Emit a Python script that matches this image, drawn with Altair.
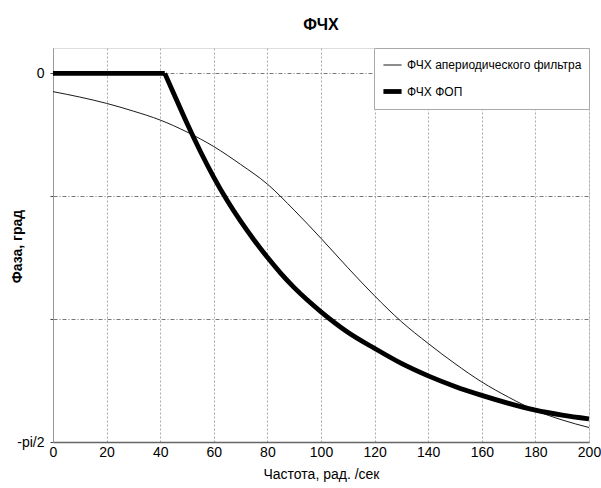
import math
import altair as alt
import pandas as pd

# ---- data ----
series_names = ["ФЧХ апериодического фильтра", "ФЧХ ФОП"]

freq_aper = [0, 10, 20, 30, 40, 50, 60, 70, 80, 90, 100,
             110, 120, 130, 140, 150, 160, 170, 180, 190, 200]
phase_aper = [-0.078, -0.101, -0.128, -0.161, -0.199, -0.250, -0.312, -0.388,
              -0.472, -0.583, -0.703, -0.828, -0.948, -1.058, -1.151, -1.237,
              -1.315, -1.380, -1.436, -1.477, -1.509]

# flat part of the ФОП response, then its falling part
freq_fop_flat = [0, 41.7]
phase_fop_flat = [0.0, 0.0]
freq_fop_fall = [41.7, 45, 50, 55, 60, 65, 70, 75, 80, 85, 90, 95, 100,
                 110, 120, 130, 140, 150, 160, 170, 180, 190, 200]
phase_fop_fall = [0.0, -0.085, -0.213, -0.333, -0.443, -0.542, -0.630, -0.710,
                  -0.784, -0.852, -0.913, -0.967, -1.016, -1.103, -1.172, -1.236,
                  -1.289, -1.334, -1.372, -1.406, -1.435, -1.456, -1.472]

x_ticks = [0, 20, 40, 60, 80, 100, 120, 140, 160, 180, 200]
y_grid = [0, -math.pi / 6, -math.pi / 3, -math.pi / 2]

rows = []
for w, p in zip(freq_aper, phase_aper):
    rows.append({"w": w, "phase": p, "series": series_names[0], "part": "a"})
for w, p in zip(freq_fop_flat, phase_fop_flat):
    rows.append({"w": w, "phase": p, "series": series_names[1], "part": "f1"})
for w, p in zip(freq_fop_fall, phase_fop_fall):
    rows.append({"w": w, "phase": p, "series": series_names[1], "part": "f2"})
df = pd.DataFrame(rows)

FONT = "Liberation Sans, Arial, sans-serif"

y_label_expr = ("datum.value == 0 ? '0' : "
                "(abs(datum.value + PI/2) < 0.001 ? '-pi/2' : '')")

lines = alt.Chart(df).mark_line(
    color="black", clip=True, interpolate="monotone"
).encode(
    x=alt.X(
        "w:Q",
        scale=alt.Scale(domain=[0, 200], nice=False, zero=False),
        axis=alt.Axis(
            values=x_ticks, title="Частота, рад. /сек", grid=True,
            gridColor="#aaaaaa", gridDash=[2, 2], gridWidth=1,
            domainColor="#666666", domainWidth=1.5,
            ticks=False, labelPadding=3, labelFontSize=14,
            titleFontSize=14, titleFontWeight="normal", titlePadding=8,
            labelFlush=False,
        ),
    ),
    y=alt.Y(
        "phase:Q",
        scale=alt.Scale(domain=[-math.pi / 2, 0.108], nice=False, zero=False),
        axis=alt.Axis(
            values=y_grid, labelExpr=y_label_expr, title="Фаза, град",
            grid=True, gridColor="#555555", gridDash=[4, 2, 1, 2], gridWidth=0.8,
            domainColor="#999999", domainWidth=1,
            ticks=True, tickSize=3, tickColor="#444444",
            labelPadding=6, labelFontSize=14,
            titleFontSize=14, titleFontWeight="bold",
            titleX=-36, titleY=198, titleAlign="center", titleBaseline="middle",
        ),
    ),
    detail="part:N",
    strokeWidth=alt.StrokeWidth(
        "series:N",
        scale=alt.Scale(domain=series_names, range=[0.9, 4.8]),
        legend=alt.Legend(
            title=None, orient="none", legendX=321, legendY=0,
            fillColor="white", strokeColor="#aaaaaa",
            padding=7, rowPadding=9,
            symbolType="stroke", symbolStrokeColor="black", symbolSize=330,
            labelFont=FONT, labelFontSize=12, labelColor="black",
            labelOffset=3, labelLimit=400,
        ),
    ),
)

chart = lines.properties(
    width=536,
    height=394,
    title=alt.TitleParams(
        "ФЧХ", font=FONT, fontSize=16, fontWeight="bold",
        anchor="middle", offset=15, color="black",
    ),
    autosize=alt.AutoSizeParams(type="none"),
    padding={"left": 53, "top": 48, "right": 12, "bottom": 46},
).configure_view(
    stroke="#888888", strokeWidth=1
).configure_axis(
    labelFont=FONT, titleFont=FONT, labelColor="black", titleColor="black",
).configure(background="white")

chart.save("out.html", embed_options={"renderer": "svg", "actions": False})
